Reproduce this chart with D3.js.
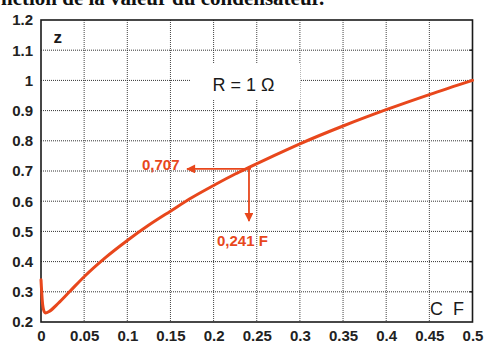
<!DOCTYPE html>
<html>
<head>
<meta charset="utf-8">
<script src="https://cdn.jsdelivr.net/npm/d3@7"></script>
<style>
  html, body { margin: 0; padding: 0; background: #fff; }
  svg { display: block; }
</style>
</head>
<body>
<svg id="chart" width="487" height="344"></svg>
<script>
// Impedance ratio z versus capacitance C (R = 1 Ω)
const capacitance = [0, 0.0015, 0.003, 0.005, 0.01, 0.02, 0.033, 0.05, 0.075, 0.1,
  0.125, 0.15, 0.175, 0.2, 0.225, 0.241, 0.27, 0.3, 0.35, 0.4, 0.45, 0.5];
const zValues = [0.34, 0.27, 0.24, 0.23, 0.236, 0.262, 0.30, 0.35, 0.414, 0.47,
  0.521, 0.567, 0.612, 0.652, 0.69, 0.712, 0.751, 0.79, 0.849, 0.903, 0.953, 1.0];

const xTicks = [0, 0.05, 0.1, 0.15, 0.2, 0.25, 0.3, 0.35, 0.4, 0.45, 0.5];
const xTickLabels = ["0", "0.05", "0.1", "0.15", "0.2", "0.25", "0.3", "0.35", "0.4", "0.45", "0.5"];
const yTicks = [0.2, 0.3, 0.4, 0.5, 0.6, 0.7, 0.8, 0.9, 1.0, 1.1, 1.2];
const yTickLabels = ["0.2", "0.3", "0.4", "0.5", "0.6", "0.7", "0.8", "0.9", "1", "1.1", "1.2"];

// Marked point on the curve
const markC = 0.241;
const markZ = 0.707;
const markCLabel = "0,241 F";
const markZLabel = "0,707";

const caption = "nction de la valeur du condensateur.";

const svg = d3.select("#chart");
const plotLeft = 41, plotRight = 472.5, plotTop = 20, plotBottom = 322;

const x = d3.scaleLinear().domain([0, 0.5]).range([plotLeft, plotRight]);
const y = d3.scaleLinear().domain([0.2, 1.2]).range([plotBottom, plotTop]);

const red = "#e8471c";
const ink = "#1a1a1a";
const sans = "'Liberation Sans', Arial, sans-serif";

// Caption line running off the top edge
svg.append("text")
  .attr("x", 1).attr("y", 5)
  .attr("font-family", "'Liberation Serif', 'Times New Roman', serif")
  .attr("font-weight", "bold")
  .attr("font-size", 21)
  .attr("fill", "#111")
  .text(caption);

// Grid
const grid = svg.append("g");
grid.selectAll("line.v").data(xTicks.slice(1, -1)).join("line")
  .attr("x1", d => x(d)).attr("x2", d => x(d))
  .attr("y1", plotTop).attr("y2", plotBottom)
  .attr("stroke", "#444").attr("stroke-width", 1)
  .attr("stroke-dasharray", "1,1");
grid.selectAll("line.h").data(yTicks.slice(1, -1)).join("line")
  .attr("x1", plotLeft).attr("x2", plotRight)
  .attr("y1", d => y(d)).attr("y2", d => y(d))
  .attr("stroke", "#333").attr("stroke-width", 1)
  .attr("stroke-dasharray", "1,1");

// Legend box for the resistance value
svg.append("rect")
  .attr("x", 190).attr("y", 64).attr("width", 110).attr("height", 35)
  .attr("fill", "#fff");
svg.append("text")
  .attr("x", 243.5).attr("y", 91)
  .attr("text-anchor", "middle")
  .attr("font-family", sans)
  .attr("font-size", 18)
  .attr("fill", ink)
  .attr("xml:space", "preserve")
  .text("R = 1 Ω");

// Axes
const xAxis = d3.axisBottom(x).tickValues(xTicks).tickFormat((d, i) => xTickLabels[i])
  .tickSize(0).tickPadding(8.5);
const yAxis = d3.axisLeft(y).tickValues(yTicks).tickFormat((d, i) => yTickLabels[i])
  .tickSize(0).tickPadding(8);

const gx = svg.append("g").attr("transform", `translate(0,${plotBottom})`).call(xAxis);
const gy = svg.append("g").attr("transform", `translate(${plotLeft},0)`).call(yAxis);
[gx, gy].forEach(g => {
  g.select(".domain").remove();
  g.selectAll("text")
    .attr("font-family", sans)
    .attr("font-weight", "bold")
    .attr("font-size", 15)
    .attr("fill", "#222");
});

// Right-edge ticks
svg.append("g").selectAll("line").data(yTicks.slice(1, -1)).join("line")
  .attr("x1", plotRight - 3).attr("x2", plotRight)
  .attr("y1", d => y(d)).attr("y2", d => y(d))
  .attr("stroke", ink).attr("stroke-width", 1.5);

// Frame
svg.append("rect")
  .attr("x", plotLeft).attr("y", plotTop)
  .attr("width", plotRight - plotLeft).attr("height", plotBottom - plotTop)
  .attr("fill", "none").attr("stroke", ink).attr("stroke-width", 1.6);

// Axis names
svg.append("text")
  .attr("x", 53.5).attr("y", 42.5)
  .attr("font-family", sans)
  .attr("font-weight", "bold").attr("font-size", 17)
  .attr("fill", ink).text("z");
svg.append("text")
  .attr("x", 430).attr("y", 315)
  .attr("font-family", sans)
  .attr("font-size", 18)
  .attr("fill", ink).attr("xml:space", "preserve").text("C  F");

// Curve
const line = d3.line()
  .x((d, i) => x(capacitance[i]))
  .y(d => y(d))
  .curve(d3.curveMonotoneX);
svg.append("path")
  .datum(zValues)
  .attr("d", line)
  .attr("fill", "none")
  .attr("stroke", red)
  .attr("stroke-width", 3)
  .attr("stroke-linejoin", "round")
  .attr("stroke-linecap", "round");

// Arrows from the marked point
const defs = svg.append("defs");
defs.append("marker")
  .attr("id", "head")
  .attr("viewBox", "0 0 10 10")
  .attr("refX", 9).attr("refY", 5)
  .attr("markerWidth", 10).attr("markerHeight", 9)
  .attr("markerUnits", "userSpaceOnUse")
  .attr("orient", "auto")
  .append("path").attr("d", "M0,0 L10,5 L0,10 Z").attr("fill", red);

const px = x(markC), py = y(markZ);
svg.append("line")
  .attr("x1", px + 2).attr("y1", py).attr("x2", 187).attr("y2", py)
  .attr("stroke", red).attr("stroke-width", 1.8)
  .attr("marker-end", "url(#head)");
svg.append("line")
  .attr("x1", px).attr("y1", py).attr("x2", px).attr("y2", 221)
  .attr("stroke", red).attr("stroke-width", 1.8)
  .attr("marker-end", "url(#head)");

svg.append("text")
  .attr("x", 142).attr("y", py + 1)
  .attr("font-family", sans)
  .attr("font-weight", "bold").attr("font-size", 15)
  .attr("fill", red).text(markZLabel);
svg.append("text")
  .attr("x", 217).attr("y", 246)
  .attr("font-family", sans)
  .attr("font-weight", "bold").attr("font-size", 15)
  .attr("fill", red).attr("xml:space", "preserve").text(markCLabel);
</script>
</body>
</html>
